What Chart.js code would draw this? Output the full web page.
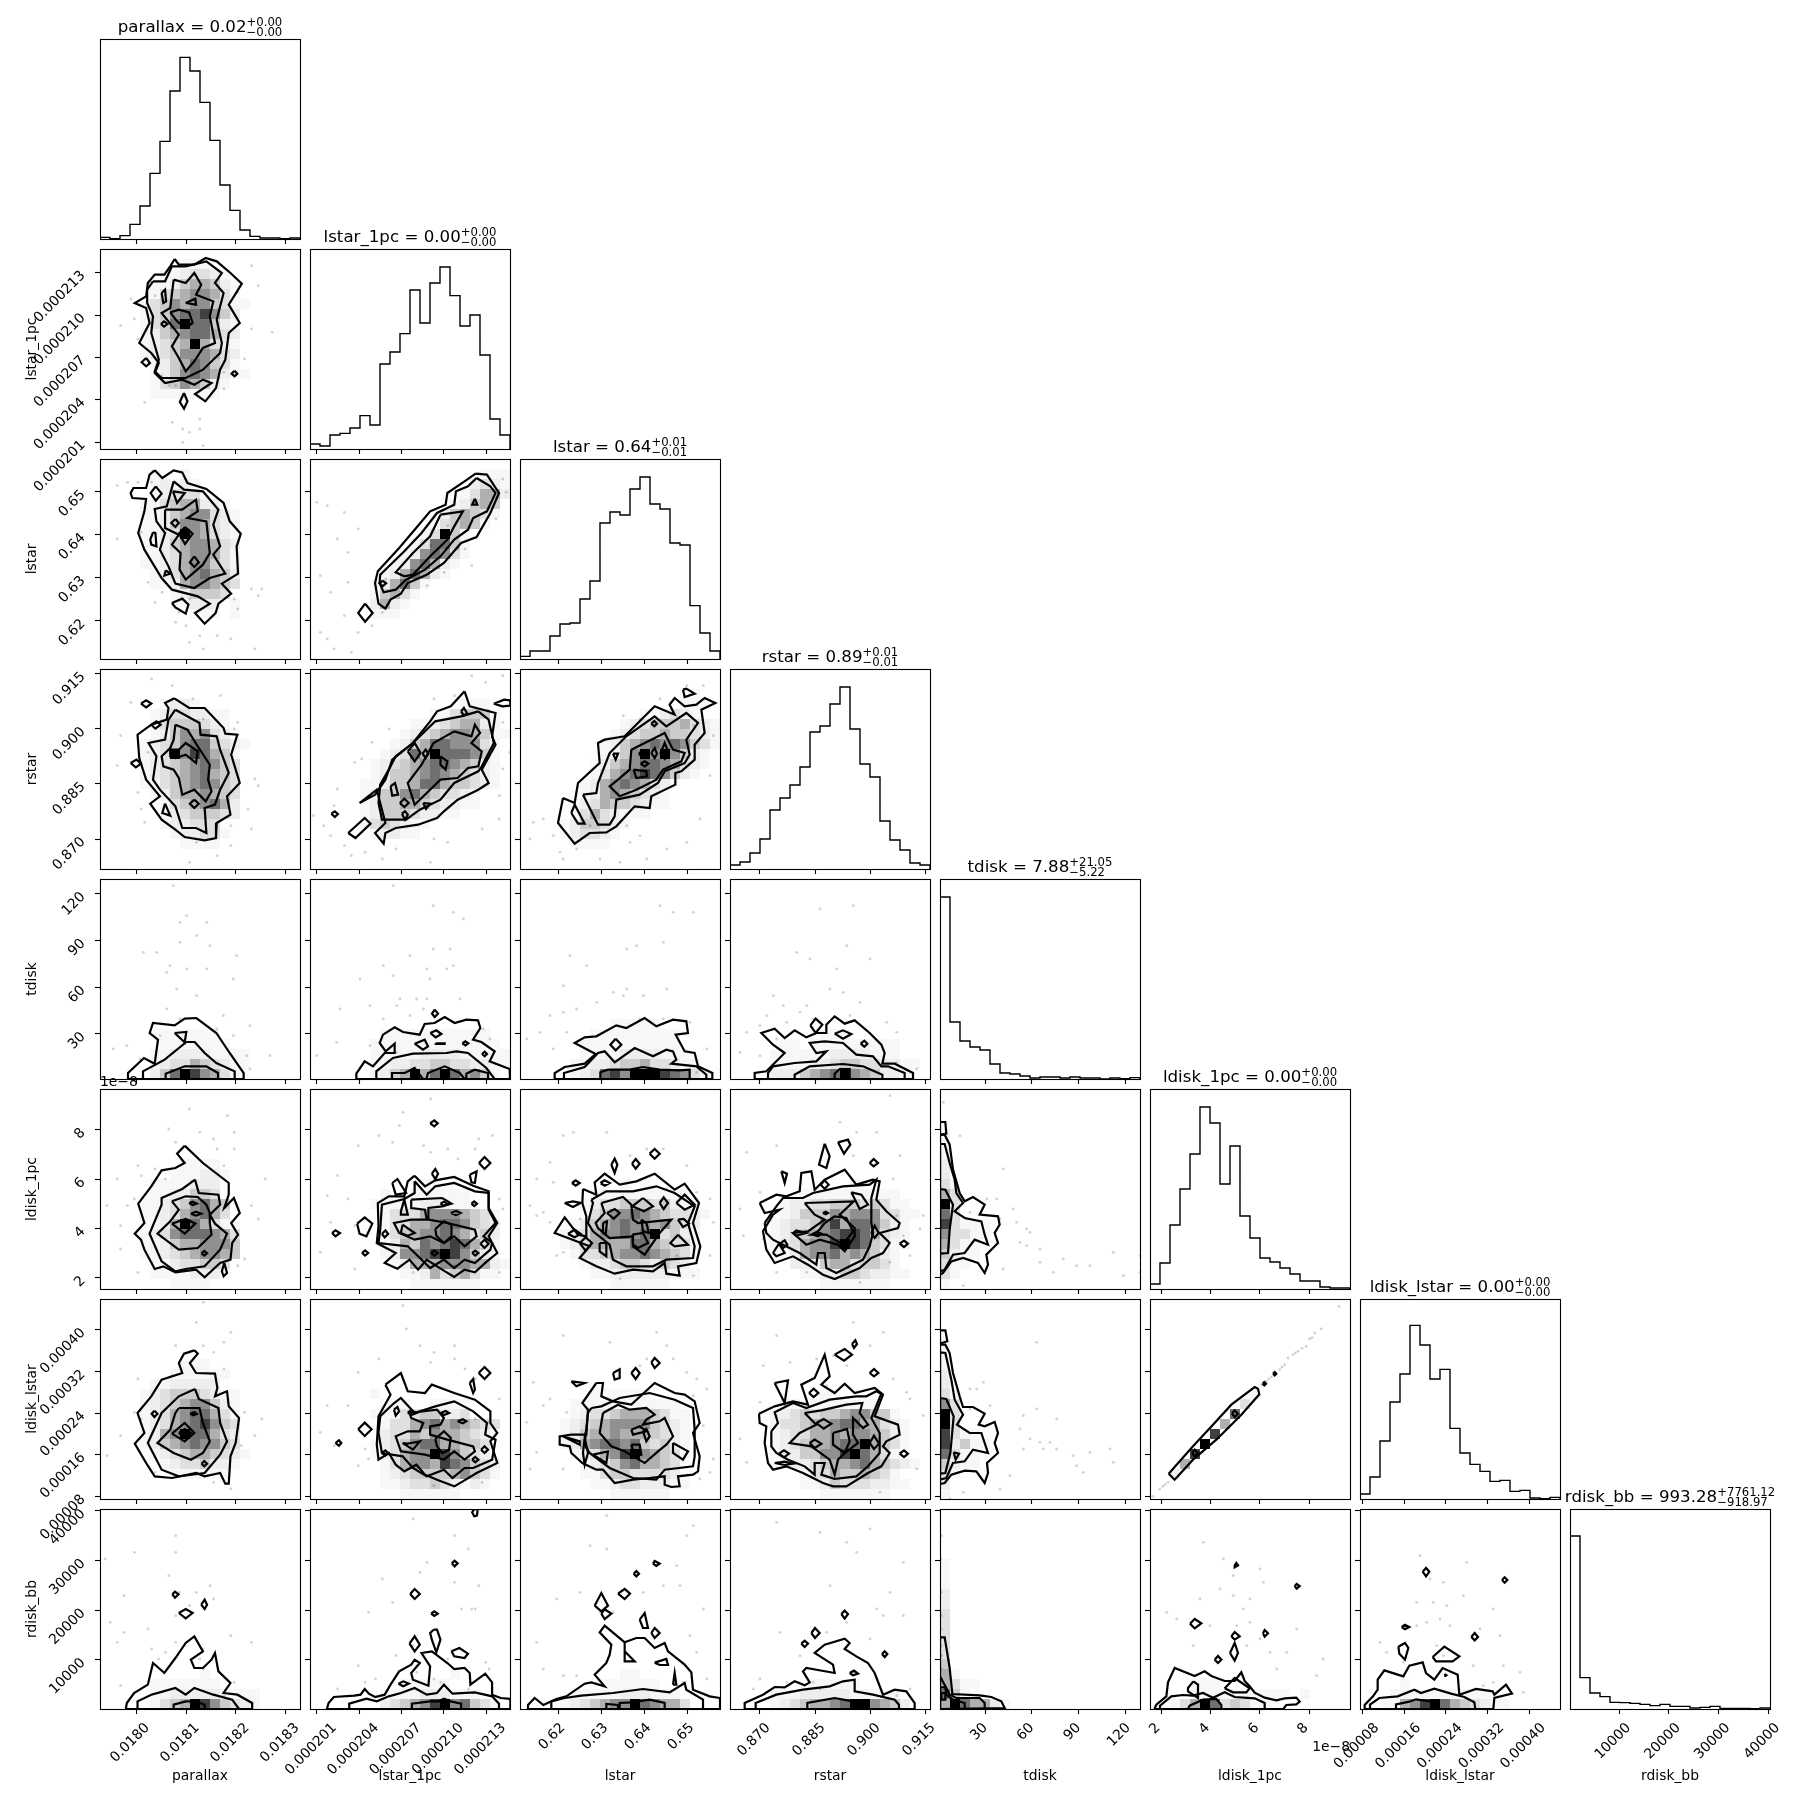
<!DOCTYPE html>
<html>
<head>
<meta charset="utf-8">
<title>corner</title>
<script src="https://cdn.jsdelivr.net/npm/chart.js@4"></script>
<style>
body { margin:0; background:#fff; width:1809px; height:1809px; overflow:hidden; position:relative; }
canvas { position:absolute; }
</style>
</head>
<body>
<script>
const names = ['parallax','lstar_1pc','lstar','rstar','tdisk','ldisk_1pc','ldisk_lstar','rdisk_bb'];
const axis_lo = [0.0179276,0.00020051,0.61116,0.86182,1.07,1.554e-8,7.49e-5,133];
const axis_hi = [0.0183284,0.00021468,0.65767,0.91636,129.64,9.661e-8,4.595e-4,40400];
const tick_values = [
  [0.0180,0.0181,0.0182,0.0183],
  [0.000201,0.000204,0.000207,0.000210,0.000213],
  [0.62,0.63,0.64,0.65],
  [0.870,0.885,0.900,0.915],
  [30,60,90,120],
  [2e-8,4e-8,6e-8,8e-8],
  [0.00008,0.00016,0.00024,0.00032,0.00040],
  [10000,20000,30000,40000]
];
const tick_labels = [
  ['0.0180','0.0181','0.0182','0.0183'],
  ['0.000201','0.000204','0.000207','0.000210','0.000213'],
  ['0.62','0.63','0.64','0.65'],
  ['0.870','0.885','0.900','0.915'],
  ['30','60','90','120'],
  ['2','4','6','8'],
  ['0.00008','0.00016','0.00024','0.00032','0.00040'],
  ['10000','20000','30000','40000']
];
const title_main = ['parallax = 0.02','lstar_1pc = 0.00','lstar = 0.64','rstar = 0.89','tdisk = 7.88','ldisk_1pc = 0.00','ldisk_lstar = 0.00','rdisk_bb = 993.28'];
const title_up = ['+0.00','+0.00','+0.01','+0.01','+21.05','+0.00','+0.00','+7761.12'];
const title_down = ['\u22120.00','\u22120.00','\u22120.01','\u22120.01','\u22125.22','\u22120.00','\u22120.00','\u2212918.97'];

// histogram heights, 20 bins per parameter
const hist = [
  [.5,.1,1,4.4,9.9,19.7,29.3,44.4,54.5,50.4,41,29.6,16.2,8.6,2.7,.8,.3,.3,.1,.3],
  [1.5,.9,4.2,4.7,6.3,10,7.2,25.5,29.1,34.6,47.7,37.8,49.8,54.6,46,36.9,40.2,28.2,9,4.2],
  [.8,2.4,2.4,6.9,10.5,10.8,18,23.4,40.8,44.1,43.2,51,54.6,46.5,45,34.8,34.2,16,7.8,2.4],
  [1.2,2.1,4.8,9,17.7,21.3,25.2,30.6,41.1,42.9,49.5,54.6,42,31.5,27.6,14.4,8.7,5.7,1.8,1.2],
  [54.6,17.1,11.4,9.6,8.7,4.5,1.8,1.5,.9,.3,.6,.6,.3,.6,.3,.3,0,.3,.1,.4],
  [1.5,7.8,19.2,30,40.5,54.6,49.8,31.5,42.9,21.9,15.3,9.3,8.1,6.3,4.5,2.4,2.4,.6,.3,.3],
  [1.5,6.6,17.4,29.1,37.5,52.1,46.2,36,38.9,21.2,13.8,10.4,8.3,5.3,5.6,2.3,2.6,.3,.1,.5],
  [51.9,9.4,4.8,3.7,2,1.9,1.7,1.4,1,1.4,.8,.8,.3,.5,.8,.2,.2,.2,.1,.3]
];

// contour vertices x,y,x,y on the histogram grid (y 0-60, x 0-60, or 0-58.1 in the first two columns)
const c_1_0 = [
 [21.7,57,22.9,55.3,27.4,55.3,30.7,57.3,33.9,56.3,37.9,52.8,41.2,49.6,37.4,43.3,40.6,37.8,37.4,34.8,36.4,26.8,34.9,23.8,33.7,18.3,30.6,14.3,27.6,16.5,32.4,19.8,29.9,20.8,27.4,19.3,23.9,20.8,18.9,19.8,15.9,22.8,17.1,25.8,14.9,28.8,11.4,31.8,14.4,37.8,13.4,42.3,10.1,43.8,13.4,45.8,13.9,49.8,15.9,52.3,18.7,52.3,20.4,54.8],
 [15.4,50.3,18.9,50.3,20.9,54.8,24.9,54.8,30.9,56.3,35.4,52.8,33.4,49.8,35.9,46.8,33.9,38.8,35.4,31.8,34.9,28.8,29.9,23.8,24.9,21.3,17.9,21.3,15.9,23.3,17.1,26.8,14.9,34.8,15.4,39.8,13.7,43.8,13.7,47.8],
 [21.4,50.8,24.9,49.8,27.4,52.8,29.4,49.3,27.9,46.3,32.9,44.3,31.9,39.8,33.4,31.8,29.9,30.3,27.4,26.3,24.9,23.3,22.9,27.3,20.9,30.8,22.9,34.3,17.9,40.8,20.4,42.3],
 [17.9,46.8,18.9,47.8,19.2,44.3,18.4,43.8],[24.9,43.8,27.7,45.1,27.9,43.3],[20.4,41,22.9,41.8,25.9,41,26.9,37.8,24.9,36.3,22.4,38.3],
 [17.7,37.5,18.6,38.3,19.6,37.5,18.6,36.7],[13.4,27.3,14.5,25.8,13.4,24.8,12.1,26],[39.1,23.5,39.9,22.6,39.1,21.8,38.2,22.6],[24.4,16.8,25.4,14.3,24.4,12.1,23.2,14.1]
];
const g_1_0 = ['','........111.........','......1123321.......','.....112455421......','.....134566531......','....13465664311.....','....1346778642......','....1347977421......','....1245677532......','....1234595321......','....1234666532......','.....124576431......','.....1246765211.....','.....13465421.......','.....1111111........'];
const c_2_0 = [
 [15.9,56.6,18.1,54.3,21.4,56.6,23.9,56,25.4,52.8,30.9,51,35.9,46.8,37.7,41.3,40.9,37.6,39.7,33.8,40.1,25.6,35.4,22.6,38.1,19.6,34.4,16.6,33.6,13.8,30.4,10.6,27.6,13.8,31.9,16.6,28.4,18.8,20.9,20.8,17.9,24.3,12.9,32.8,11.1,37.8,12.9,44.3,13.4,48,9.4,48.3,8.9,49.8,9.7,51.3,13.4,51.3,14.4,55.3],
 [21.4,53.3,24.4,50.8,29.9,50.3,34.4,44.8,32.9,40.3,34.9,33.8,32.9,31.3,36.4,25.6,31.9,24.3,27.4,21.3,21.9,22.6,19.9,27.8,17.4,32.8,18.9,37.8,16.4,41.3,15.9,45,19.4,45.8],
 [18.9,44.8,23.9,44.8,27.9,47.8,28.4,44.3,25.4,42.3,30.9,41.3,31.9,31.8,29.9,28.3,24.9,23.8,23.1,26.8,23.4,31.8,20.9,34.3,22.9,37.3,18.9,39.3],
 [21.2,50.3,24.6,49.8,22.4,46.8],[16.2,51.8,17.9,49.6,16.2,47.5,14.7,49.8],[21.9,42,22.9,40.8,21.9,39.6,20.7,40.8],[24.7,39.6,26.9,37.6,24.7,34.5,22.9,37.6],[27.4,30.8,28.7,29,27.4,27.6,26.1,29],[15.4,38,16.1,37.8,16.4,33.8,14.9,34.3,14.6,35.8],[19.1,26.6,20.4,25.6,18.7,25],[20.9,16.8,23.9,18.1,25.7,16.3,24.9,13.6,21.9,15.5]
];
const g_2_0 = ['','.....1..1...........','.....12121..........','.....123331.........','....113455221.......','....1124566321......','....1124665321......','....1123965321......','....1124566532......','....1123566531......','....1123566431......','.....123567542......','.....112566543......','.......124443.......','.......11222.1......','.........111.1......'];
const c_3_0 = [
 [21.6,51.2,25.9,48.3,30.4,48.3,35.9,42.3,36.4,40.6,39.9,40.3,38.1,34.3,40.6,25.8,36.9,21.8,37.9,16.3,33.9,13.8,33.7,9.3,30.4,8.6,24.6,9.6,21.9,11.8,17.9,14.8,14.6,19.6,17.4,21.8,13.4,26.8,11.4,33.3,10.9,40.3,14.9,43.3,19.4,44.8,19.9,48.3,18.9,49.8],
 [21.9,47.8,28.9,43.8,29.2,40.3,33.9,39.8,34.9,35.8,37.4,28.8,34.9,23.8,33.4,19.3,30.4,18.3,30.9,10.8,27.9,12.3,23.9,12.3,21.9,18.8,17.4,23.8,15.4,26.8,16.4,33.8,14.1,37.8,18.9,38.8,19.9,44.8],
 [21.9,43.3,25.4,41.8,28.4,36.8,31.9,31.3,31.4,26.8,32.4,23.3,30.7,20.3,27.4,23.8,23.9,22.3,22.9,27.3,21.4,29.8,18.4,30.8,17.9,33.8,20.4,36.3,21.4,38.8],
 [20.4,35.8,22.9,35.8,24.9,37.8,28.4,35.3,27.9,31.8,24.9,34.3,21.9,33.3,20.4,33.8],
 [11.9,49.6,13.4,50.6,14.9,49.6,13.4,48.5],[14.9,43.3,16.4,44.3,17.6,43.3,16.1,42.1],[8.9,31.8,10.6,32.8,11.9,31.6,10.4,30.5],[27.4,20.8,28.7,19.6,27.4,18.3,26.1,19.6],[18.9,19.6,20.4,16,18.1,16.8]
];
const g_3_0 = ['','','','......1221..........','.....12332211.......','.....13444321.......','.....124656321......','....12346774321.....','....1239687541......','....1234567643......','....1234567543......','....1134567643......','.....124556543......','......13456752......','......12344432......','......122333........','.......122331.......','........1111........'];
const c_4_0 = [
 [8.4,0,8.4,1.8,13.2,6.3,16.4,4.6,17.4,11.8,14.9,13.8,15.9,16.8,22.4,16.1,25.4,18.1,28.9,18.3,34.9,13.8,38.9,7.8,43.1,1.8,43.1,0],
 [12.9,0,12.9,2.3,19.4,5.8,25.9,11.1,28.4,11.1,31.4,7.8,34.9,4.8,40.4,2.3,40.4,0],
 [19.7,0,19.7,1.6,25.4,3.8,31.9,3.8,35.4,1.8,35.4,0],[22.4,13.8,25.9,14.1,25.4,11]
];
const g_4_0 = {15:'......111111........',16:'......1111111.......',17:'.....1122221111.....',18:'.....1233543211.....',19:'.....247986531......'};
const c_4_1 = [
 [13.9,0,13.9,1.6,16.4,5.3,18.9,3.8,22.4,7.8,25.4,7.8,25.4,10.6,22.7,8.3,20.9,10.8,21.9,13.3,25.4,15.5,27.9,14.1,32.9,13.3,34.4,16.5,37.4,16.8,40.4,18.6,43.4,16.8,46.9,17.8,50.4,17.6,51.1,15.3,48.9,11.8,51.4,11.1,55.4,8.3,53.9,5.3,59.9,3,60,0],
 [19.9,0,19.9,2.3,24.9,6.3,30.9,7.6,40.9,7.8,43.9,8.3,47.4,7.8,52.9,3.3,55.4,0],
 [24.6,0,24.6,1.8,28.4,1.8,31.4,3.3,33.9,0],[34.9,0,35.4,1.8,40.4,3.8,44.9,1.8,46.4,0],[46.9,0,46.9,1.6,49.4,2.8,53.4,1.8,53.4,0],
 [37.4,20.8,38.4,19.6,37.4,18.6,36.6,19.6],[36.1,13.8,37.9,14.6,39.4,13.5,37.7,12.5],[31.4,10.6,34.4,11.8,35.4,9.8,33.9,8.8],[37.7,10.7,40.4,10.7,40.4,10.5,37.7,10.5],[45.7,10.7,46.6,11.3,47.5,10.7,46.6,10.1],[51.6,7.5,52.4,8.2,53.1,7.5,52.4,6.8]
];
const g_4_1 = {15:'.......11111111111..',16:'......1111111111111.',17:'......11111222211111',18:'......11223344332211',19:'......1245957975641.'};
const c_4_2 = [
 [10.4,0,10.4,1.8,13.4,3.6,19.4,4.6,22.7,7.5,16.4,10.8,19.4,12.5,22.9,12.8,28.9,16.1,31.9,15.3,37.4,18.3,40.9,15.8,45.9,17.8,49.9,17.3,50.4,13.8,46.7,13.3,49.4,8.3,52.4,7.8,53.4,3.8,57.7,1.8,57.7,0],
 [13.2,0,13.2,1.8,19.4,3.6,23.4,7.8,25.4,8.3,28.4,5,34.4,9.3,39.9,6.8,43.9,8.8,45.9,8.3,46.9,5.8,45.4,4.6,52.9,3.8,55.9,1.3,55.9,0],
 [24.1,0,24.1,2,26.4,2.8,32.9,2.8,36.9,3.6,41.9,2.8,47.9,2.6,50.9,2.8,50.9,0],[28.7,12.1,30.4,10.3,28.7,8.6,27.1,10.3]
];
const g_4_2 = {14:'.........11111......',15:'.......111111111....',16:'......1111111111....',17:'......11112222111...',18:'.....1122344533211..',19:'.....12378699987631.'};
const c_4_3 = [
 [7.4,0,7.4,1.8,10.9,2.3,16.4,7.8,12.9,10.3,9.4,13.8,13.4,15.1,16.4,12.3,19.4,14.6,22.9,12.5,25.9,13.8,28.9,13.8,28.9,16.3,31.4,18.8,34.4,16.6,37.4,17.6,41.9,13.8,45.4,10.3,46.4,7.8,45.7,4.6,49.4,4.6,54.9,1.8,54.9,0],
 [11.4,0,11.4,1.8,12.9,3.8,19.4,4.8,25.9,5.3,28.9,8.3,25.9,7.8,23.9,10.8,28.4,11.3,33.9,10.8,37.9,7.3,42.9,6.8,45.4,3.8,47.4,3.8,52.4,1.8,52.4,0],
 [19.4,0,19.4,1.3,23.9,3.8,33.9,4.5,39.9,3.8,45.7,1.3,45.7,0],[31.4,0,31.4,1.6,32.9,3,35.9,3,35.9,0],
 [24.1,16.1,25.7,18.1,27.7,16.3,25.7,13.8],[31.4,13.6,33.9,14.6,36.4,13.5,33.9,12.1],[39.2,10.6,40.3,11.5,41.2,10.6,40.3,9.7]
];
const g_4_3 = {15:'.........111........',16:'.....11.111111111...',17:'....1111112222111...',18:'....111122344332211.',19:'....22245679654221..'};
const c_5_0 = [
 [24.6,43,29.9,37.8,37.4,31.8,37.4,28.3,36.1,24.3,38.9,27.3,40.6,22.8,38.1,19.8,40.1,16.3,38.4,13.8,37.9,8.8,34.9,7.8,30.4,3.5,27.9,5.8,21.9,5,18.4,6.8,15.9,6,12.9,11.8,11.9,14.8,10.1,16.6,12.9,19.8,11.1,25.6,14.9,30.8,17.9,35.6,21.9,36.3,24.6,37.8,22.4,40.6],
 [27.6,32.8,28.7,28.8,34.4,28.3,34.9,25.3,31.9,22.3,33.4,19.6,36.9,16.6,34.9,11.8,30.4,6.8,24.9,6,21.9,5.3,17.9,8.3,14.4,16.6,17.9,25.3,17.9,27.3,23.9,30],
 [20.9,26.3,24.9,27.8,28.4,27.6,30.9,25.3,31.9,22.8,31.9,19.8,32.4,16.3,28.4,12.3,22.9,11.8,16.7,16.6,20.4,20.3,22.9,23.8],
 [20.9,19.6,24.9,21,27.7,19.6,24.6,16.6],[25.9,25.8,26.9,26.2,28.1,25.6,26.9,25.2],[26.4,22.6,27.9,23.2,29.4,22.6,27.9,22],[29.5,10.7,30.3,11.4,31.1,10.7,30.3,10],[36.1,7.8,36.9,4.8,35.9,3.8,35.4,5.3]
];
const g_5_0 = ['','','','','','','','........1111........','.......111221.......','.....1111222........','.....1122443........','....112346754.......','....112356753.......','....1125975311......','....1236777653......','....1124556664......','....1123456654......','.....11233443.......','.....1111222........','.......1111.........'];
const c_5_1 = [
 [30.4,34,33.4,30.8,36.4,32.6,41.9,33.6,47.4,31,51.9,29.3,51.9,24.3,54.4,19.8,51.9,15.8,54.4,10.8,51.4,8.3,47.9,5,44.9,5.8,41.9,3.6,38.4,5.8,33.9,8.8,31.4,5.8,28.9,8.8,25.4,6.1,21.7,7.8,24.9,10.8,19.4,13.8,19.9,18.8,19.7,25.8,22.9,27.8,27.4,27.8,28.4,32.3],
 [30.4,32.3,33.9,28.3,36.4,30.8,41.9,31.8,47.9,29.3,51.9,28.8,51.9,23.8,53.9,19.8,50.4,15.8,52.9,13.8,52.4,11.8,47.9,7.8,44.9,8.8,41.9,6.3,38.9,8.8,34.9,6.3,31.4,9.8,28.4,12.8,19.9,13.8,20.4,17.8,20.9,25.3,27.4,27,30.4,28.8],
 [29.4,26.8,38.4,27.3,41.1,25.6,38.4,24.8,34.4,24.3,34.4,20.8,39.9,19.8,47.9,17.8,48.4,15.8,44.9,12.8,41.9,15.8,38.9,13.8,34.9,15.8,30.4,14.8,25.9,16.8,24.4,19.8,29.4,20.8,33.9,20.8,33.4,23.8,29.4,24.3],
 [26.9,19.3,30.4,16.8,28.4,16,26.4,16.8],[36.4,18,38.9,20.3,41.1,19.3,41.1,15.8,38.9,13.8,36.7,16],[34.9,49.7,36.1,50.6,37.1,49.7,36.1,48.8],[49.1,37.8,50.7,39.6,52.4,37.8,50.7,36],[35.4,34.6,36.4,36,37.2,34.6,36.4,33],[46.4,34.3,48.4,35.3,47.9,31.8,46.9,32],[6.4,16.8,7.4,17.6,8.7,16.8,7.4,15.8],[13.7,19.6,15.9,21.5,18.1,19.6,16.4,15.8,14.4,16.6],[15.1,10.8,16,11.6,16.9,10.8,16,10],[23.9,31.8,25.4,33,27.9,28.8,24.9,28.3],[26.4,23.3,27.4,26.8,28.4,22.3,26.4,22.3],[49.5,13.6,50.7,14.8,51.9,13.6,50.7,12.3],[20.9,16.5,21.9,17.6,22.7,16.5,21.7,15.5],[35.2,10.8,36.1,11.5,37.1,10.8,36.1,10],[47.1,10.8,48,11.5,48.9,10.8,48,10],[37.9,25.6,38.9,26.2,39.9,25.6,38.9,25],[46.9,25.6,47.7,26.3,48.5,25.6,47.7,24.9],[40.9,22.8,42.4,23.4,43.7,22.8,42.4,22.2]
];
const g_5_1 = ['','','','','','','','','','...........11.......','.......1..111111....','......11111222111...','.......133356665431.','.......133556776432.','.......134566765342.','.......125476787531.','.......126678986421.','........125556665521','.........1125345311.','..........1111111...'];
const c_5_2 = [
 [18.9,30,22.9,28.3,22.4,32,25.4,34.6,29.9,31.3,34.9,32.3,40.4,34.6,46.4,29.8,49.4,31.6,53.7,25.8,51.9,19.8,54.1,12.8,52.9,7.8,47.4,6.8,47.9,4,43.9,4.6,43.4,7.8,39.9,5.3,33.9,5.8,28.4,4.6,22.9,6.8,17.9,9.3,20.9,12.8,10.4,16.8,13.4,21.5,17.4,16.3,19.9,15.8,19.9,21.8,18.7,25.8],
 [21.4,26.8,25.9,29.3,33.9,29.3,40.9,30.8,46.4,28.8,52.4,24.8,50.4,19.8,52.4,12.8,51.9,9.3,43.9,8.8,39.9,6.8,31.9,6.8,27.9,8.8,26.9,13.3,21.9,17.3,20.4,19.8,21.9,25.8],
 [24.4,25.8,30.9,27.6,33.4,25.3,33.9,20.8,35.4,19.8,45.4,20.8,41.9,16.8,37.4,10.3,33.9,12.8,33.9,15.8,26.9,15.3,23.4,18.3,22.7,19.8,25.4,22.8],
 [36.9,27.3,39.9,24.8,37.2,23.3,33.7,24.8],[41.9,25.8,43.1,27.5,44.4,25.8,43.1,24],[46.9,25.8,49.4,28.3,52.4,25.3,49.4,23.8],[26.1,22.8,28.4,24,29.9,22.8,28.1,21.1],[24.9,19.8,26.1,20.3,25.7,16.3,24.9,16.8],[36.4,20.8,37.9,19.8,38.7,16.8,36.9,17.3],[33.7,16.3,36.9,16.8,38.4,13.8,35.4,12.3,33.9,13.3],[47.4,20.8,49.1,21,50.7,19.6,48.9,18.6],[47.4,16.3,50.4,13.3,46.4,12.8,45.1,13.8],[14.4,16.5,16.4,17.8,18.2,16.5,16.4,15.5],[17.9,13.8,19.7,15.5,21.6,13.8,19.7,11.5],[23.9,13.8,25.9,13.8,25.9,9.8,23.9,11.3],[13.4,25.8,15.9,26.3,18.2,25.8,15.9,24.6],[15.6,31.8,16.7,32.6,17.9,31.8,16.7,31],[24.1,31.8,25.4,32.6,26.9,31.8,25.4,31],[27.4,37.3,28.4,39.1,29.2,37.3,28.4,34.8],[33.6,37.6,34.7,39,35.9,37.6,34.7,36.1],[38.9,40.6,40.4,42,41.9,40.6,40.4,39.1]
];
const g_5_2 = ['','','','','','','','','','........1.1.1.......','.......1111111111...','......123344434211..','......1346676543321.','.....1245676656432..','....12356676793421..','....12355557754331..','.....1334566765431..','......12234432432...','.......11222222111..','.........111111.....'];
const c_5_3 = [
 [8.9,25.8,13.9,28.3,16.9,27.8,20.9,29.3,21.4,34.8,24.4,35.3,25.4,29.8,28.4,32.8,34.4,35.8,37.9,31.3,42.9,32.8,44.9,32.3,43.9,26.8,46.9,23.3,50.9,19.8,50.4,18.3,44.9,16.8,47.9,13.8,45.9,10.8,42.4,9.3,38.9,6.3,31.4,3,27.9,4.3,23.4,7.3,18.9,9.8,13.4,7.8,10.9,11.8,9.9,17.3,12.9,22.3,14.9,23.8,10.4,22.8],
 [10.4,19.8,13.9,24.8,15.9,27.3,21.9,27.3,24.9,28.8,33.9,30.8,41.9,31.3,43.9,32.8,42.4,27.3,42.4,19.8,42.9,16.8,41.9,12.8,39.9,8.8,35.9,6.8,31.9,4.8,28.9,6.3,28.4,10.8,26.4,10.8,25.9,7.3,20.9,10.8,15.9,13.3,12.9,14.8,10.9,16.8],
 [22.4,25.8,37.1,26.3,32.9,22.3,37.4,18.3,37.4,15.8,34.4,11.3,32.4,13.3,26.9,14.8,22.9,13.3,18.9,16.8,23.4,17.3,28.4,20.8,25.4,22.3],
 [28.4,19.8,31.4,21.8,34.9,21.3,36.9,17.3,33.9,13.3,28.9,16.3,24.4,16.3,26.4,17.3],[36.4,29,39.4,28.3,41.4,25.3,38.9,24],[42.4,16.8,43.4,19,44.6,16.8,43.4,15.3],[32.4,44,35.4,44.8,36.1,43.3,34.2,40.6],[28.4,43.6,29.9,39.8,28.9,36.3,26.7,37.3],[15.4,35.3,17.1,34.6,16.4,31.8],[41.9,37.8,43.1,39,44.4,37.8,43.1,36.8],[27.2,31.3,28.4,32.6,29.6,31.3,28.4,30.1],[12.9,10.8,14.7,13.6,16.4,10.8,13.9,9.8],[14.9,13.6,16.4,14.6,17.2,13.3,15.9,12.3],[50.9,13.6,52.2,14.5,53.4,13.6,52.2,12.6],[27.9,22.8,28.7,23.2,29.4,22.8,28.7,22.4],[18.9,16.8,19.9,17.6,22.9,16.8,19.9,16],[24.9,16.3,26.4,17,27.4,16.6,26.4,15.8]
];
const g_5_3 = ['','','','','','','','','','............1.......','.......1111111111...','.....1223344434311..','.....12444656663311.','....12334685776421..','....12345678875321..','....12356689874311..','.....125667565421...','......22245534431...','.......11224432211..','.........1111111....'];
const c_5_4 = [
 [0,46.3,1.4,46.3,2.9,43.3,3.9,35.8,5.9,28.8,7.4,26.3,9.9,27.6,13.4,25.3,11.9,22.3,17.4,21.8,17.9,19.3,16.4,16.8,17.4,13.8,13.9,10.3,14.4,7.3,13.4,4.8,11.4,7.8,6.9,9.3,3.4,8.3,.9,4.8,0,4.3],
 [0,50.1,1.6,50.1,1.9,46.6,.6,46.3,0,46.3],
 [0,43.5,1.4,43.5,2.9,37.8,4.4,32.8,4.9,28.8,6.9,25.8,4.4,23.3,7.4,21.3,12.4,20.3,13.4,16.3,14.4,13.3,10.4,14.8,7.4,10.8,3.9,10.3,1.4,5.8,0,5.3],
 [0,30,1.6,29.8,3.9,25.3,2.9,17.8,2.4,10.8,0,10.6]
];
const g_5_4 = {4:'1...................',5:'1...................',6:'1...................',7:'2...................',8:'2...................',9:'31..................',10:'53..................',11:'93..................',12:'73..................',13:'83111...............',14:'63311...............',15:'5311................',16:'4211................',17:'311.................',18:'31..................',19:'1...................'};
const c_6_0 = [
 [27.4,44.6,28.4,43.6,26.1,40.8,27.9,37.8,33.4,37.6,34.1,33.3,33.4,30.8,36.9,32.3,37.4,27.8,40.4,24.3,39.4,16.8,37.9,12.8,37.4,4.6,36.4,4.6,34.9,7.8,30.4,6.8,27.9,7.8,20.9,6.3,15.9,6.8,13.4,10.8,10.1,16.6,12.9,19.8,10.9,25.8,14.9,30.8,17.9,35.8,23.9,37.8,22.9,40.8,24.4,43.6],
 [27.6,33,28.7,30,34.4,27.3,34.9,22.8,36.9,17.3,34.9,13.3,30.4,7.8,22.9,6.8,17.9,8.8,13.9,16.8,17.9,25.8,22.9,30.8],
 [22.9,27.3,28.9,27.3,29.9,22.8,31.9,17.3,29.9,13.8,26.4,11.8,21.4,13.8,16.7,16.8,20.4,20.8,21.9,25.8],
 [20.9,19.6,24.6,22.8,27.4,19.8,24.6,17.3],[22.9,19.8,24.6,21,26.4,19.8,24.6,18.3],[15.8,26.5,16.7,25.6,15.8,24.6,15,25.6],[26.2,25.6,27.4,26,28.1,25.5,27.1,25.1],[29.5,10.6,30.3,11.4,31.1,10.6,30.3,9.8]
];
const g_6_0 = ['','','','','','','........111.........','.......111111.......','.....1122222........','....1234443211......','....1234566421......','....1235677531......','....1235678643......','....1256977532......','....1245676643......','.....1234554321.....','......12334221......','.......111111.......'];
const c_6_1 = [
 [21.9,34.3,26.4,37.8,28.4,32.3,33.4,31.8,35.4,34.3,41.9,31.8,47.9,29.8,52.4,26.3,52.4,22.8,54.4,19.8,52.4,17.3,54.4,10.8,48.4,7.8,44.4,5.3,41.9,3.8,36.9,5.8,33.4,7.3,30.9,10.3,27.4,8.3,24.9,10.3,22.9,13.8,19.9,11.8,19.4,16.3,19.9,24.8,23.4,31.3],
 [23.9,28.3,26.4,30.3,30.4,25.8,36.4,27.8,41.9,29.3,47.4,26.3,51.4,22.8,50.9,19.3,53.9,17.8,52.9,11.8,47.4,9.3,44.9,9.3,41.4,6.3,38.9,8.8,33.9,6.8,29.9,9.3,26.9,12.8,20.9,13.8,19.9,19.8,20.4,24.8],
 [28.9,25.8,36.9,26.8,38.9,24.3,37.9,22.3,34.9,21.8,34.9,19.3,39.9,17.8,47.4,15.8,47.9,14.3,44.9,11.8,41.9,14.3,38.9,11.8,33.4,13.3,26.4,14.3,24.9,18.8,28.4,20.3,31.9,20.3,32.9,22.8,29.4,24.3],
 [36.4,18,38.9,20.3,40.9,18.3,40.4,14.8,38.4,13.8,36.9,15.8],[26.9,16.8,29.9,14.8,31.9,17.3,28.4,16.6],[24.4,26.8,25.4,27.6,25.9,26.3,24.9,25],[28.4,26,29.4,26.6,30.9,25.8,29.4,25.2],[37.9,25.8,39.4,26.4,40.4,25.8,38.9,25.2],[42.9,23.3,44.4,23.9,45.4,23.3,44.4,22.7],[20.9,13.8,21.9,14.6,22.7,13.8,21.9,13],[49.7,14.8,50.7,15.8,51.7,14.8,50.7,13.8],[47.1,11.8,48,12.6,48.9,11.8,48,11],[14,20.9,15.9,22.9,17.9,20.9,15.9,18.9],[7.4,16.8,8.4,17.6,9.1,16.8,8.4,16],[49,37.8,50.7,39.6,52.4,37.8,50.7,36],[46.4,34.8,47.4,36,47.9,32.8,47.4,31.8]
];
const g_6_1 = ['','','','','','','','','','......1.............','.......111..1111....','......1113344223....','.......133567565433.','.......23354655432..','......123467755443..','......123566986432..','.......135665876432.','.......123444456431.','.......11233432121..','.........111111.....'];
const c_6_2 = [
 [22.9,34.8,24.9,34.8,24.4,30.8,27.9,29.3,33.4,28.3,40.4,34.8,46.4,31.8,49.4,31.3,52.4,29.3,53.9,22.8,51.9,19.8,53.9,12.8,53.4,8.3,51.9,7.3,47.4,6.8,47.9,3.8,45.4,3.6,43.4,4.3,43.4,6.8,38.9,6.3,33.9,5.8,28.4,4.8,24.9,8.8,22.9,8.8,18.7,10.8,15.4,13.8,14.9,15.8,11.9,16.3,11.9,18.8,15.4,19.3,19.9,19.3,20.4,26.8,18.7,28.8],
 [21.4,27.3,24.4,27.8,29.9,30.3,38.9,31.8,46.4,29.8,51.9,27.3,52.4,20.8,52.4,12.8,51.9,9.8,43.4,8.8,40.9,5.8,33.9,6.3,26.9,9.3,20.9,13.8,19.4,16.3,20.4,25.8],
 [24.9,25.8,29.4,28.3,32.9,26.8,37.9,27.3,40.4,25.3,37.9,23.8,36.9,22.3,41.9,23.3,43.4,24.3,45.9,18.8,43.9,16.3,41.4,14.3,37.4,10.8,33.9,12.8,31.4,14.3,27.4,15.8,23.9,19.8],
 [33.4,20.8,35.9,21.8,37.9,20.3,33.9,19.3],[36.9,20.3,37.9,21,38.9,18.8,37.9,17.3],[33.4,16.3,35.9,16.3,36.4,13.3,34.4,12.8],[45.9,16.8,50.4,14.3,48.9,11.8,45.9,13.8],[21.9,13.3,26.4,14.3,25.9,10.8],[15.4,35.3,19.4,34.8,16.9,33.8],[27.9,37.8,29.9,38.9,29.9,36.3,28.4,35.8],[33.4,37.8,34.7,39.3,35.9,37.8,34.7,36],[39.4,41,40.4,42.3,41.9,40.8,40.4,39.3],[12.9,18.8,17.9,17.3,17.9,16.3],[18.9,13.8,19.4,18.3,20.4,13.8,19.4,10.3]
];
const g_6_2 = ['','','','','','','','','','.......111111.......','.....11111111111....','.....123345554311...','....1234566664321...','....1245565554321...','....1256776743421...','.....123568965431...','......1234675543....','......1134433332....','.......1123322211...','.........111111.....'];
const c_6_3 = [
 [8.7,25.6,13.4,27.8,18.9,29.3,23.4,28.3,21.4,34.3,25.4,36.3,28.4,43.3,29.9,36.8,27.4,34.3,31.4,31.8,34.4,34.6,37.4,31.8,43.4,33.3,45.9,31.3,43.4,24.8,50.4,22.3,50.9,19.3,46.9,17.3,45.9,15.8,47.9,13.8,45.4,9.8,41.4,7.8,34.9,3.8,30.9,3.8,27.9,4.8,21.9,7.8,16.9,9.8,12.9,8.8,11.4,10.8,10.4,16.8,10.9,21.8,8.9,22.8],
 [12.4,20.3,14.4,22.8,13.4,26,18.9,28.8,22.9,27.3,29.9,29.8,37.9,30.8,40.9,30.8,43.9,32.3,45.4,31.6,42.4,24.3,44.9,19.8,44.9,13.8,41.4,9.8,37.9,6.8,31.4,6,27.4,7.3,28.4,10.8,25.4,10.8,25.4,7.3,22.4,9.8,17.4,11.8,13.9,13.8,12.4,15.8],
 [22.4,25.8,27.4,26.6,34.9,28.3,39.7,28.8,38.9,25.8,41.4,22.3,39.9,21.3,36.9,24.3,36.9,19.3,38.4,16.8,34.4,13.8,32.4,11.8,31.4,7.3,29.9,11.8,24.4,15.8,17.9,16.8,20.9,19.8,25.9,22.3,22.9,25.3],
 [30.9,19.8,35.1,21,35.9,17.3,34.4,13.8,30.9,16.3],[25.9,22.8,28.1,24,30.4,22.6,28.1,21.1],[23.9,16.8,25.4,17.8,27.4,16.6,25.4,15.3],[41.9,16.8,43.2,19,44.7,16.6,43.2,15],[13.4,34.8,17.4,35.6,16.4,28.8],[23.7,31.8,25.1,33.1,26.5,31.8,25.1,30.6],[31.4,43.3,34.4,45,36.6,43.3,34.2,41.5],[36.6,46.5,37.6,47.6,38.1,46.5,37.2,45.3],[41.9,37.8,43.2,39,44.5,37.8,43.2,36.8],[14.7,13.6,16.2,14.6,17.7,13.6,16.2,12.5],[13.4,10.8,16.4,11.2,18.9,10.6,16.4,10.2],[50.9,13.6,52.2,14.6,53.4,13.6,52.2,12.6]
];
const g_6_3 = ['','','','','','','','','','.........1..........','.....11.1111111.....','....1234344566441...','....13345567755321..','....12335565665421..','....12345567795431..','....1224466897531...','.....12234556754321.','.......1335445431...','.......11243332211..','.........1111111....'];
const c_6_4 = [
 [0,46.3,1.6,46.3,2.9,43.8,3.9,37.8,5.9,30.8,6.9,27.6,9.9,27.6,13.4,25.6,11.6,22.3,13.4,21.8,16.4,23.1,17.4,19.8,16.4,16.8,17.4,13.8,14.1,10.8,14.4,7.8,13.4,4.8,10.9,8.3,7.4,8.5,3.4,7.3,1.4,4.8,0,4.5],
 [0,50.6,1.6,50.6,2.2,47.3,.6,46.8,0,46.8],
 [0,44,1.6,43.8,2.4,40.3,3.4,35.8,4.4,29.8,6.9,25.3,5.1,22.3,8.9,19.8,12.4,19.8,14.4,13.8,9.9,14.8,7.4,11.3,3.9,10.8,1.9,6.3,0,5.8],
 [0,30.3,1.9,30,4.1,24.8,3.1,13.8,1.6,7.8,0,7.6],[4.1,14,5.7,13.6,4.7,11.8]
];
const g_6_4 = {4:'1...................',5:'1...................',6:'1...................',7:'2...................',8:'2...................',9:'31..................',10:'63..................',11:'93..................',12:'93..................',13:'8311................',14:'82411...............',15:'7311................',16:'4211................',17:'31..................',18:'2...................',19:'1...................'};
const c_6_5 = [
 [5.6,7.6,7.4,5.8,12.9,11.8,19.9,17.8,27.4,25.3,32.8,31.4,32.4,33.1,31.4,33.6,24.4,28.3,18.9,22.3,12.9,15.8],
 [12.6,13.8,13.4,14.8,14.4,13.8,13.4,12.8],[24.6,25.6,25.4,26.6,26.4,25.6,25.4,24.6],[33.8,34.6,34.3,35.1,34.8,34.6,34.3,34.1],[36.9,37.6,37.4,38.1,37.9,37.6,37.4,37.1]
];
const g_6_5 = {9:'..........1.........',10:'.........3..........',11:'........7...........',12:'.......5............',13:'......8.............',14:'.....9..............',15:'....8...............',16:'...5................',17:'..2.................'};
const c_7_0 = [
 [7.5,0,7.8,1.8,9.9,4.8,13.9,7.3,15.4,13.8,18.7,10.8,21.9,15.3,24.9,19.8,27.4,21.8,29.9,17.3,26.4,14.8,27.4,12.3,29.9,12.3,32.4,14.8,33.4,16.8,34.4,11.3,37.9,7.8,35.9,4.8,39.9,4.3,44.2,1.8,44.2,0],
 [10.9,0,10.9,2.3,14.9,4.3,18.4,5.3,21.9,6.3,24.9,4.3,27.4,6.3,32.9,4.3,38.4,2.8,40.4,0],
 [21.4,0,21.4,1.3,24.9,2.3,27.9,2.3,30.4,1.3,30.4,0],
 [21,34.4,21.8,35.2,22.8,34.4,21.8,33.4],[22.9,28.8,24.9,30,26.9,28.8,24.9,27.2],[29.4,31.3,30.4,32.8,31.1,31.3,30.4,30]
];
const g_7_0 = {16:'..........1.........',17:'.....1111111........',18:'.....11222221111....',19:'.....13459864321....'};
const c_7_1 = [
 [4.9,0,5.4,1.8,6.9,3.6,12.9,4,14.7,4.3,15.9,6,17.1,4.6,18.9,3.6,21.7,4.3,23.4,7.3,25.9,11.3,29.4,13.3,30.4,14.8,31.9,13.8,29.4,10.8,29.9,8.8,34.4,7,34.9,12.8,32.4,16.8,35.4,17.3,39.9,13.8,41.9,12,44.9,12.3,46.4,10.8,46.6,7.3,50.9,10.6,52.9,8,52.9,4.3,55.4,3.3,58.2,3,58.2,0],
 [11.4,0,11.4,1.6,16.4,3.1,19.4,2.3,22.9,3.8,26.4,4.8,30.4,6.3,33.9,4.3,36.9,4.8,38.9,7.3,41.4,4.6,47.9,5,52.9,3.8,54.9,1.6,54.9,0],
 [29.4,0,29.6,1.6,34.9,2.3,37.4,2.3,38.9,3.1,40.9,2.3,43.9,1.6,43.9,0],
 [47.7,60,48.7,59.8,48.5,58,47.7,57.8,47.1,59],[41.2,43.7,42,44.5,42.9,43.7,42,42.8],[29.1,34.5,30.4,36,31.9,34.5,30.4,33],[35.2,28.6,36.1,29.3,37.1,28.6,36.1,27.9],[35.9,23.8,36.9,23.8,37.9,20.8,36.7,17,35.4,20.8,34.9,22.8],[28.9,19.6,30.4,21.8,31.9,19.3,30.4,17.3],[41.1,17.3,43.4,18.3,45.9,16.6,44.9,15.3,41.9,15.8],[25.7,7.6,27.1,8.3,28.7,7.6,27.1,6.8]
];
const g_7_1 = {16:'..............1.....',17:'.........11111......',18:'.......1111222111...',19:'.......234568967431.'};
const c_7_2 = [
 [2.4,0,2.4,1.2,4.4,3.3,7,1.2,10.9,3,13.9,3.8,19.4,7.6,21.4,8,25.4,6.8,22.4,10.3,25.9,13.8,26.9,16.3,27.4,19.3,23.9,23,25.4,25,31.4,20,31.4,14.3,34.4,14.3,31.4,17.3,31.4,20,34.9,21.3,37.4,21.3,40.4,18.3,43.4,19.8,44.4,17.3,49.4,13.3,51.4,11,51.9,5.8,56.9,3.8,60,3.3,60,0],
 [9.4,0,9.4,2.3,13.4,3.3,18.4,4,27.9,4.8,36.9,6,44.9,5,49.4,7.8,49.9,5.8,54.9,2.8,54.9,0],
 [25.9,0,25.9,1.5,29.4,1.2,29.4,0],[29.9,0,29.9,1.8,33.4,2,38.9,2.8,43.4,1.8,43.4,0],
 [22.4,31,24.4,34.8,26.4,31,24.4,29.3],[24.4,28.6,25.4,29.9,27.4,28.6,25.4,27],[29.4,34.6,31.4,36,33,34.6,31.4,33],[34.1,40.6,34.9,41.4,35.7,40.6,34.9,39.8],[39.9,43.6,40.4,44.4,41.9,43.6,40.9,42.9],[35.9,26.8,37.4,28.8,38.4,24.3,36.9,24.3],[39.4,22.8,40.4,24.3,41.9,22.8,40.4,21.3],[40.4,13.9,43.9,15,44.4,13.2,41.9,13.2],[45.9,7.3,46.4,10.8,46.9,7.3]
];
const g_7_2 = {16:'..........11........',17:'........111111......',18:'.....11111222111....',19:'....1234566976553...'};
const c_7_3 = [
 [4.4,0,4.4,1.8,9.9,4.3,13.4,6.6,16.4,6.5,19.4,8.3,22.4,7.1,23.9,8,21.9,11.3,22.9,12.3,31.4,10.8,30.9,13.3,25.4,16.8,28.4,19.3,34.4,21.1,35.9,19.8,34.4,18,37.9,15.8,41.4,13.8,43.4,10.8,45.9,4.3,49.4,5.8,52.9,5.3,55.4,1.8,55.4,0],
 [7.7,0,7.7,1.8,13.9,4.3,21.9,5.8,29.9,6.8,33.9,8.3,37.4,8.8,37.4,5.3,42.9,4.3,49.4,2.8,50.7,1.3,50.7,0],
 [23.2,0,23.2,1.8,31.4,3.3,36.9,2.3,40.4,1.3,40.4,0],
 [21.4,19.6,22.4,20.5,23.4,19.6,22.4,18.6],[24.4,22.8,25.5,24.3,26.9,22.8,25.5,21.3],[33.4,28.5,34.4,29.5,35.4,28.5,34.4,27.1],[45.6,16.5,46.4,17.3,47.2,16.5,46.4,15.6],[35.9,10.8,37.2,11.5,38.4,10.6,36.9,10.1]
];
const g_7_3 = {17:'........11111.......',18:'....1112222211111...',19:'....12345567996542..'};
const c_7_4 = [
 [0,21.5,1.4,21.5,2.9,12.3,3.7,4.5,11.9,4.1,15.4,3.6,18.4,2.3,19.4,.3,0,0],
 [0,9.8,1.9,6.3,2.9,4.3,4.9,3.3,11.9,3.3,13.4,1.8,13.4,0,0,0],
 [0,6.5,1.6,6.5,1.9,4.3,3.9,2.8,7.4,1.8,7.4,0,0,0],[.4,4.8,1.6,4.8,1.6,2.8,.4,2.8]
];
const g_7_4 = {5:'1...................',6:'1...................',7:'1...................',8:'2...................',9:'2...................',10:'3...................',11:'3...................',12:'3...................',13:'3...................',14:'3...................',15:'4...................',16:'51..................',17:'5311................',18:'741.................',19:'5975521.............'};
const c_7_5 = [
 [1.3,0,1.9,1.3,4.9,3.8,5.4,8,7.4,12.3,13.4,9.9,16.4,11.3,18.4,9.9,22.4,8.4,25.4,8.4,27.4,11,28.4,8.4,29.9,6.8,31.4,4.9,34.4,3.4,37.9,2.6,40.4,3.2,43.9,3.4,44.9,2.2,43.9,1.4,40.9,1.2,40,0],
 [3,0,3,1,6.4,3.8,9.9,4.2,12.9,4,15.9,4.8,18.9,3.4,22.4,5,25.4,3.6,31.4,3.2,34.4,1.8,34.4,0],
 [11.4,0,11.9,1,15.9,2.8,19.9,3,21.4,1.2,21.4,0],
 [13,8.3,14.4,7.3,14.4,3.3,11.4,5.3,11.4,6.3],[22.4,6.2,25.4,9.3,29.9,6.2,28.9,5,24.9,5],[12,25.6,13.4,27,15.4,25.7,13.4,24.2],[24,16.8,25.4,19.8,26.4,16.8,25.4,14.5],[24.4,21.8,25.4,23.1,26.9,21.8,25.4,20.8],[19.4,14.8,20.4,15.9,21.4,14.8,20.4,13.8],[33.9,22.7,34.4,23.7,35.4,22.7,34.4,21.7],[43.4,36.9,44,37.5,44.9,36.9,44,36.1],[25.4,43.1,25.9,43.8,26.4,43.1,25.4,42.5]
];
const g_7_5 = {17:'....111.............',18:'....1111111111.1....',19:'..1359734311........'};
const c_7_6 = [
 [1.2,0,1.4,1.2,3.9,3.8,5.3,5.8,5.3,8.8,7.3,11.6,13,9.8,14.8,13,18.8,14,19.8,10.8,22.3,8.8,24.8,12.3,29.3,10.3,29.8,4.3,34.8,6,39.8,5.3,40.3,4.3,43.8,7.3,45.6,4.6,40.3,3.3,40,0],
 [3,0,3,1.3,5.8,3.3,11.3,3.8,16.3,5.8,18.3,4.8,22.3,6.1,27.3,4.6,31.3,3.6,34.3,2,34.6,0],
 [10.8,0,10.8,1.4,14.8,2.2,16.8,2.9,21.8,2.2,21.8,0],
 [18.8,41.2,19.8,42.3,20.8,41.2,19.8,39.8],[42.6,38.7,43.4,39.5,44.2,38.7,43.4,37.9],[12.5,24.6,13.5,25.3,14.8,24.6,13.5,23.9],[33.4,21.6,34.4,22.8,35.4,21.6,34.4,20.6],[11.5,18.7,13.5,19.8,14.5,18.3,13.5,14.8,11.8,16.6],[21.8,15.6,25.3,18.7,29.8,15.8,27.8,14.3,22.8,14.3],[25.3,10.1,25.6,10.3,25.9,10.1,25.6,9.9]
];
const g_7_6 = {17:'....1...............',18:'...1111111111.......',19:'..1156897543211.....'};
const c_2_1 = [
 [48.1,55.6,51.4,55.3,54.9,49.8,52.4,43.8,48.4,36.6,43.9,34.8,38.9,28.8,33.9,25.3,28.4,22.8,26.4,19.6,23.4,17.8,21.9,15.1,19.9,16.6,18.9,22.8,19.7,26.3,25.9,33.3,30.4,38.8,34.9,44.3,39.4,46.3,39.9,49.8,44.9,53.3],
 [48.4,54.3,52.4,51.8,53.9,49.8,51.4,44.3,47.4,42.3,45.9,38.8,41.9,35.8,37.9,30.8,33.4,26.8,27.9,23.8,24.9,20.8,21.4,20,20.2,22.8,20.4,25.3,27.4,32.3,32.4,37.8,36.9,43.8,41.9,46.3,42.4,50.3,45.9,51.8],
 [37.9,43.3,44.4,44.3,41.9,39.8,39.9,35.8,34.9,30.8,29.9,25.3,27.4,24.8,24.9,26,29.9,31.8,34.9,36.8],
 [47.9,48.1,48.6,46.3,47.1,46.3],[21.1,23.5,22.1,22.7,21.1,21.8,20.2,22.7],[16,16.6,18.2,13.8,16,11.2,14,13.8]
];
const g_2_1 = ['','.................111','................2321','...............13552','..............12454.','............1245431.','............134541..','...........13941.....','..........137741.....','.........1267631....','........1267521.....','.......1257521......','......125741........','......14531.........','......2521..........','......111...........'];
const c_3_1 = [
 [44.9,53.3,46.4,48.8,53.9,46.8,52.9,39.8,53.9,37.3,49.9,29.8,51.9,25.8,48.9,23.8,42.9,20.8,38.9,17.3,36.9,15.3,31.4,13.3,24.9,12.3,21.9,10.8,21.4,7.6,18.9,10.8,21.9,13.8,19.4,23.8,14.4,19.8,18.9,22.3,21.9,26.8,23.9,32.8,29.9,37.8,34.9,44.3,36.9,47.3,40.9,48.8],
 [48.9,47.3,51.9,44.8,53.4,37.8,49.9,30.8,48.9,29.3,41.9,25.8,37.9,20.8,31.9,17.8,27.9,14.8,20.9,14.8,19.9,19.8,20.4,25.3,22.9,29.8,24.9,33.8,29.9,37.8,32.9,40.8,36.4,44.3,43.9,45.8],
 [41.9,41.3,46.9,39.8,47.9,43.3,49.4,40.8,46.9,37.8,49.9,35.3,48.9,30.8,45.9,30.3,42.9,27.3,37.9,26.8,33.9,22.8,30.4,19.3,28.4,25.8,32.4,31.3,35.9,37.8],
 [28.4,35.3,30.4,37.8,32.1,34.8,30.4,32.3],[32.7,34.6,33.6,35.8,34.4,34.6,33.6,33.3],[37.9,33.8,39.9,32.3,39.4,29.8,37.9,31.3],
 [43.9,47.3,44.7,48.3,45.6,46.8,44.7,46],[53.4,49.6,56.4,50.8,58.2,50.6,58.2,49,55.9,48.8],[6.2,16.6,7.2,17.3,8.1,16.5,7.2,15.6],[11.1,10.8,15.9,15.3,17.6,13.6,13.2,9.3],[23.4,24.8,24.7,25.8,25.6,22.3,23.9,22],[26.1,19.8,27.4,21.1,28.7,19.8,27.4,18.6],[32.9,19.8,34.9,19.6,33.7,18],[26.7,16.6,27.6,17.3,28.4,16.3,27.6,14.8]
];
const g_3_1 = ['','','','...............111..','............1134441.','..........112345521.','.........12345665411','........12457766631.','.......123759777641.','......1234567765421.','......1244567654321.','.....11244577544321.','.....124467543321...','.....124455432211...','.....1244432211.....','.....1343211........','......12211.........'];
const c_3_2 = [
 [12.9,21.3,16.4,19.8,17.4,25.8,23.9,31.8,23.4,37.8,25.4,38.8,31.4,39.8,40.4,48.8,46.4,46.3,44.9,49.3,46.4,51.3,49.4,48.8,52.9,49.3,55.4,51.3,58.6,49.8,54.4,47.8,55.4,40.8,52.4,37.3,52.4,32.8,48.4,29.3,46.6,28.8,46.6,25.3,39.4,21.8,38.9,18.3,34.4,18.8,28.9,12.8,25.9,11,20.9,10.8,16.4,7.6,11.4,13.8],
 [18.9,22.3,22.9,22.8,23.4,25.8,26.9,34.8,31.9,39.8,40.4,45.8,43.9,42.8,49.9,46.8,53.4,43.8,49.9,38.8,50.9,34.3,49.4,31.8,43.4,29.3,41.4,25.8,35.9,22.3,28.9,20.8,28.4,15.8,26.9,13.3,23.4,13.3,21.9,16.3],
 [33.4,35.8,43.4,40.8,45.9,35.8,49.4,34.8,48.4,32.3,42.9,29.8,40.9,26.8,34.9,23.8,29.9,21.8,26.9,24.8,29.4,26.8,32.9,29.8],
 [48.9,53.8,49.9,54.1,52.4,52.6,49.4,51.6],[15.4,16.8,17.4,13.6,19.4,13.6,16.4,19.3],[27.9,34.6,29.4,34.6,28.7,32.8],[34.1,29.8,37.9,29.3,38.1,27.8,34.9,27.3],[36.2,31.6,37.4,32.3,38.5,31.6,37.4,30.8],[39.4,34.8,40.4,36.3,41.1,34.6,40.4,33.3],[42.1,34.6,43.4,37.8,44.7,34.6,43.4,33],[39.4,43.6,40.3,44.4,41.1,43.6,40.3,42.8],[35.7,34.6,36.4,35.3,37.1,34.6,36.4,33.8]
];
const g_3_2 = ['','','.................1..','................111.','............112321..','..........1234445321','.........12344544321','........124567676431','........12469696421.','.......124567765321.','.......13567876421..','......1256765321....','......125654321.....','.....1235443211.....','.....13532111.......','....1244321.........','....123321..........','.....1111...........'];

// faint single samples per panel
const p_1_0 = [11,33,14,50,6,37,16,46,18,22,9,45,44,55,40,47,46,49,36,23,42,27,50,35,44,36,21,8,24,6,29,9,26,5,24,2,30,1,13,14,22,19,29,6,20,19,36,18,10,39];
const p_2_0 = [5,52,11,53,8,53,15,53,12,38,14,23,16,17,18,20,26,18,23,14,22,11,25,10,29,7,26,5,33,13,39,18,44,21,47,21,46,19,38,6,34,7,40,15,45,3,30,3,5,36];
const p_3_0 = [15,57,9,50,6,40,5,31,11,23,12,18,13,14,20,17,38,13,43,18,44,12,46,25,39,42,35,52,27,51,21,55,40,44,34,4,28,8,26,2,38,7,30,45,14,35,45,27];
const p_4_0 = [22,58,26,49,24,47,32,47,24,41,29,43,13,38,17,38,33,40,41,37,21,34,26,33,32,33,40,30,20,32,23,27,29,25,37,19,35,15,40,13,45,16,44,7,51,7,45,3,24,18,20,21,18,13,15,14,8,10,12,6,4,9];
const p_4_1 = [25,58,37,52,46,48,43,50,37,39,42,39,30,37,35,33,41,33,22,34,36,30,43,34,15,30,25,31,27,24,32,24,26,22,35,24,30,19,18,22,22,18,34,21,45,24,54,12,52,15,9,21,2,7,8,11,18,10,26,8,51,2];
const p_4_2 = [42,52,46,50,52,50,32,39,35,40,43,41,15,37,20,34,13,28,32,27,28,26,37,25,44,27,13,20,17,21,23,23,31,25,36,18,43,18,51,17,6,14,2,12,10,9,14,14,9,19,56,9,53,2];
const p_4_3 = [37,52,27,51,20,38,24,36,32,33,35,40,42,36,13,25,16,22,23,22,30,27,34,26,39,23,9,16,5,14,11,19,17,17,21,20,25,18,36,19,47,17,50,14,50,5,56,3,9,7,3,8,14,12];
const p_5_0 = [37,52,39,47,29,47,22,44,11,37,12,34,19,33,16,36,10,27,8,25,2,25,5,33,6,19,6,12,11,5,15,8,40,7,42,9,44,25,46,21,48,33,36,37,34,42,39,42,26,54,20,48,33,45];
const p_5_1 = [27,53,35,57,14,43,20,46,8,34,5,28,11,27,6,20,3,11,13,19,24,44,26,49,33,43,40,42,35,41,43,39,48,42,49,45,53,46,55,27,56,24,50,12,42,7,13,6,30,5,55,5];
const p_5_2 = [13,46,16,47,9,38,5,33,3,25,7,23,10,32,13,11,11,10,26,47,33,40,38,42,43,42,44,30,50,37,53,29,57,27,58,20,57,10,47,10,52,4,30,3,9,20,5,22,18,21];
const p_5_3 = [48,58,14,43,5,41,4,16,3,24,9,29,37,40,33,50,38,47,44,47,49,33,51,40,58,22,50,22,52,16,54,10,57,18,48,8,39,2,23,5,10,15,14,5];
const p_5_4 = [1,56,6,46,19,36,17,27,22,24,18,21,8,21,9,23,14,27,23,20,26,18,27,17,24,14,26,13,30,12,37,9,41,7,45,7,52,11,55,4,60,5,60,10,30,8,34,5,19,6,7,1];
const p_6_0 = [30,59,38,50,36,47,22,46,11,36,12,24,10,26,6,19,2,13,16,8,33,5,38,3,42,26,45,19,41,16,47,24,36,39,28,53,26,44,33,44,30,46,21,37];
const p_6_1 = [27,58,28,51,14,38,20,42,5,28,3,20,7,16,11,28,17,12,16,15,14,10,32,46,36,44,42,46,35,41,42,42,48,36,48,24,50,5,36,4,45,39,55,30,52,23];
const p_6_2 = [13,49,27,47,41,50,44,46,4,35,7,28,9,30,14,26,2,23,5,14,3,9,13,9,36,40,38,42,46,42,50,38,53,36,52,31,56,33,55,22,57,8,54,6,58,12];
const p_6_3 = [14,49,37,53,42,46,46,50,10,40,18,41,26,42,29,34,31,43,35,40,3,18,5,11,14,25,9,29,49,36,53,32,58,25,56,9,45,2,54,30];
const p_6_4 = [29,47,11,33,15,28,9,33,13,35,9,27,14,22,17,15,25,25,29,27,30,17,27,18,24,21,25,15,31,15,35,15,33,17,40,13,43,8,41,10,52,11,51,15,18,3,21,7,7,2,3,0,45,14,35,24];
const p_6_5 = [56.7,57.8,51.4,51,49.4,49.8,47.9,48,46.9,45.8,44.4,44.3,42.9,43.3,41.4,42.3,40.4,40.3,38.9,38.8,36.4,36.6,34.9,35.3,33.4,34.3,48.6,48.4,45.6,45.2,43.6,43.8,39.6,39.6,37.6,37.8,35.6,36,5.4,5,3.9,3.8,2.9,3,.9,.8,4.6,4.4];
const p_7_0 = [1.5,45,10,47,7,34,3,26,5,20,7,23,6,7,22,52,22,47,20,40,23,35,28,35,32,37,33,33,26,31,22,28,14,24,15,18,17,15,19,17,22,20,29,15,30,18,38,22,44,20,30,12,39,8,36,4];
const p_7_1 = [30,57,42,52,34,44,32,41,46,48,49,37,48,30,44,30,42,38,47,30,24,32,21,39,17,29,14,13,16,8,19,9,25,16,30,19,31,11,36,9,38,8,40,15,46,6,51,14,52,12,8,6];
const p_7_2 = [26,58,52,55,50,52,21,49,26,48,11,33,18,35,5,20,7,12,13,10,17,10,24,29,28,29,37,35,43,37,47,43,48,37,55,30,53,17,49,8,51,22,56,9];
const p_7_3 = [14,56,27,53,35,50,42,54,38,47,52,44,48,35,46,28,44,30,35,26,29,23,21,16,15,23,9,9,7,6,17,8,25,8,50,4,54,6,52,28,42,21,27,6,30,37];
const p_7_4 = [.2,45,.4,35,.4,28,.3,19,.4,12,.3,9,.3,24,.5,16,.5,52,.2,4];
const p_7_5 = [16,50,22,45,25,40,34,38,33,42,30,33,25,34,21,36,15,33,8,27,5,29,18,25,28,30,13,19,30,26,44,24,50,10,52,15,41,17,38,12,36,17,29,19,26,25,33,21];
const p_7_6 = [18,46,32,44,21,39,25,38,17,32,22,32,26,31,31,34,40,30,24,27,20,26,17,25,27,25,36,24,42,22,6,20,8,17,13,14,25,16,34,13,43,13,48,11,49,5,40,8,37,7,23,19];
const p_2_1 = [2,47,5,46,10,44,14,39,8,36,11,32,3,25,11,23,6,20,10,13,18,10,14,8,5,6,3,8,7,3,12,2,21,14,22,24,35,34,43,33,34,22,40,40,56,54,57,50,54,42,45,33,47,28,39,26,28,22];
const p_3_1 = [1,16,4,13,6,10,10,7,12,4,16,5,21,3,35,2,50,12,55,15,55,22,56,30,58,35,56,44,56,58,51,56,47,58,42,52,36,51,23,42,18,38,15,33,13,32,8,24,7,19,40,8,36,9,25,6];
const p_3_2 = [4,14,7,15,10,10,3,9,12,5,17,6,13,3,24,3,21,13,32,13,33,8,36,10,50,55,55,55,58,50,52,43,58,40,57,28,54,15,50,8,44,6,38,3,30,2,31,46,42,51,45,50,36,45];

const contours = { '1_0':c_1_0,'2_0':c_2_0,'3_0':c_3_0,'4_0':c_4_0,'5_0':c_5_0,'6_0':c_6_0,'7_0':c_7_0,'2_1':c_2_1,'3_1':c_3_1,'4_1':c_4_1,'5_1':c_5_1,'6_1':c_6_1,'7_1':c_7_1,'3_2':c_3_2,'4_2':c_4_2,'5_2':c_5_2,'6_2':c_6_2,'7_2':c_7_2,'4_3':c_4_3,'5_3':c_5_3,'6_3':c_6_3,'7_3':c_7_3,'5_4':c_5_4,'6_4':c_6_4,'7_4':c_7_4,'6_5':c_6_5,'7_5':c_7_5,'7_6':c_7_6 };
const cells = { '1_0':g_1_0,'2_0':g_2_0,'3_0':g_3_0,'4_0':g_4_0,'5_0':g_5_0,'6_0':g_6_0,'7_0':g_7_0,'2_1':g_2_1,'3_1':g_3_1,'4_1':g_4_1,'5_1':g_5_1,'6_1':g_6_1,'7_1':g_7_1,'3_2':g_3_2,'4_2':g_4_2,'5_2':g_5_2,'6_2':g_6_2,'7_2':g_7_2,'4_3':g_4_3,'5_3':g_5_3,'6_3':g_6_3,'7_3':g_7_3,'5_4':g_5_4,'6_4':g_6_4,'7_4':g_7_4,'6_5':g_6_5,'7_5':g_7_5,'7_6':g_7_6 };
const points = { '1_0':p_1_0,'2_0':p_2_0,'3_0':p_3_0,'4_0':p_4_0,'5_0':p_5_0,'6_0':p_6_0,'7_0':p_7_0,'2_1':p_2_1,'3_1':p_3_1,'4_1':p_4_1,'5_1':p_5_1,'6_1':p_6_1,'7_1':p_7_1,'3_2':p_3_2,'4_2':p_4_2,'5_2':p_5_2,'6_2':p_6_2,'7_2':p_7_2,'4_3':p_4_3,'5_3':p_5_3,'6_3':p_6_3,'7_3':p_7_3,'5_4':p_5_4,'6_4':p_6_4,'7_4':p_7_4,'6_5':p_6_5,'7_5':p_7_5,'7_6':p_7_6 };

const GRID = 60;
const PW = 200, ML = 100, MR = 60, MT = 35, MB = 100;
const shades = [255,247,238,224,204,176,144,112,64,0];
const gray = d => 'rgb(' + shades[d] + ',' + shades[d] + ',' + shades[d] + ')';
const toData = (p, u, span) => axis_lo[p] + u / span * (axis_hi[p] - axis_lo[p]);

// centre the rotated tick labels on the ticks the way the target does
const labelPlugin = {
  id: 'labelPlugin',
  afterUpdate(chart) {
    const ctx = chart.ctx;
    for (const id of ['x', 'y']) {
      const s = chart.scales[id];
      if (!s.options.ticks.display) continue;
      s.getLabelItems().forEach(it => {
        ctx.font = it.font.string;
        const w = ctx.measureText(it.label).width;
        const half = (w + 8) * 0.3536;
        const [tx, ty] = it.options.translation;
        it.options.textAlign = 'center';
        it.options.textBaseline = 'middle';
        it.textOffset = 0;
        if (id === 'x') it.options.translation = [tx, s.top + 14 + half];
        else it.options.translation = [s.right - 14 - half, ty + half - 2];
      });
    }
  }
};
const framePlugin = {
  id: 'framePlugin',
  afterDraw(chart, args, opts) {
    const ctx = chart.ctx, a = chart.chartArea;
    ctx.save();
    ctx.strokeStyle = '#000';
    ctx.lineWidth = 1.1;
    ctx.strokeRect(a.left + .5, a.top + .5, a.width, a.height);
    ctx.fillStyle = '#000';
    if (opts.title !== undefined) {
      const t = opts.title;
      ctx.font = '16.67px "DejaVu Sans"';
      const mw = ctx.measureText(title_main[t]).width;
      ctx.font = '11.67px "DejaVu Sans"';
      const sw = Math.max(ctx.measureText(title_up[t]).width, ctx.measureText(title_down[t]).width);
      const x0 = a.left + a.width / 2 - (mw + sw) / 2, yb = a.top - 7.5;
      ctx.font = '16.67px "DejaVu Sans"';
      ctx.fillText(title_main[t], x0, yb);
      ctx.font = '11.67px "DejaVu Sans"';
      ctx.fillText(title_up[t], x0 + mw, yb - 6);
      ctx.fillText(title_down[t], x0 + mw, yb + 4);
    }
    ctx.font = '13.89px "DejaVu Sans"';
    if (opts.offsetTop) ctx.fillText('1e\u22128', a.left, a.top - 3.5);
    if (opts.offsetBottom) { ctx.textAlign = 'right'; ctx.fillText('1e\u22128', a.right, a.bottom + 41.5); }
    ctx.restore();
  }
};

function scaleOpts(axis, p, showTicks, titleText) {
  return {
    type: 'linear', min: axis_lo[p], max: axis_hi[p],
    border: { display: false },
    grid: { display: true, drawOnChartArea: false, drawTicks: true, tickLength: 5, tickColor: '#000', tickWidth: 1.1 },
    afterBuildTicks: s => { s.ticks = tick_values[p].map(v => ({ value: v })); },
    ticks: {
      display: showTicks, autoSkip: false, minRotation: 45, maxRotation: 45,
      color: '#000', font: { family: '"DejaVu Sans"', size: 13.89 },
      callback: (v, i) => tick_labels[p][i]
    },
    title: { display: !!titleText, text: titleText, color: '#000', font: { family: '"DejaVu Sans"', size: 13.89 },
      padding: { top: 24, bottom: 24 } },
    afterFit: s => {
      s.paddingLeft = s.paddingRight = s.paddingTop = s.paddingBottom = 0;
      if (axis === 'x') s.height = MB; else s.width = ML;
    }
  };
}

function addPanel(i, j) {
  const key = i + '_' + j;
  const c = document.createElement('canvas');
  const W = ML + PW + MR, H = MT + PW + MB;
  c.width = W; c.height = H;
  c.style.left = (100 + 210 * j - ML) + 'px';
  c.style.top = (39 + 210 * i - MT) + 'px';
  c.style.width = W + 'px'; c.style.height = H + 'px';
  document.body.appendChild(c);
  const datasets = [];
  let yScale;
  if (i === j) {
    const dx = (axis_hi[j] - axis_lo[j]) / 20;
    const pts = [{ x: axis_lo[j], y: 0 }];
    hist[j].forEach((h, k) => pts.push({ x: axis_lo[j] + k * dx, y: h }));
    pts.push({ x: axis_hi[j], y: hist[j][19] });
    pts.push({ x: axis_hi[j], y: 0 });
    datasets.push({ data: pts, showLine: true, stepped: 'before', borderColor: '#000', borderWidth: 1.4, pointRadius: 0, fill: false });
    yScale = { type: 'linear', min: 0, max: GRID, display: true, border: { display: false }, grid: { display: false }, ticks: { display: false },
      afterFit: s => { s.paddingTop = s.paddingBottom = 0; s.width = ML; } };
  } else {
    // first two columns were read on a slightly narrower grid
    const spanX = (j < 2 && i !== 4) ? 58.1 : GRID;
    contours[key].forEach(list => {
      const pts = [];
      for (let k = 0; k < list.length; k += 2) pts.push({ x: toData(j, list[k], spanX), y: toData(i, list[k + 1], GRID) });
      pts.push(pts[0]);
      datasets.push({ data: pts, showLine: true, borderColor: '#000', borderWidth: 2.2, pointRadius: 0, tension: 0, fill: false, order: 0 });
    });
    const dots = [];
    for (let k = 0; k < points[key].length; k += 2) dots.push({ x: toData(j, points[key][k], spanX), y: toData(i, points[key][k + 1], GRID) });
    datasets.push({ data: dots, pointRadius: 1.4, pointBorderWidth: 0, pointBackgroundColor: 'rgba(0,0,0,.18)', order: 1 });
    const pts = [], col = [];
    const grid = cells[key];
    for (let r = 0; r < 20; r++) {
      const row = grid[r] || '';
      for (let k = 0; k < 20; k++) {
        const d = row[k];
        if (d === '.' || d === undefined) continue;
        pts.push({ x: toData(j, k * 3 + 1.5, GRID), y: toData(i, (19 - r) * 3 + 1.5, GRID) });
        col.push(gray(+d));
      }
    }
    datasets.push({ data: pts, pointStyle: 'rect', pointRadius: 5 * Math.SQRT2, pointBorderWidth: 0, pointBackgroundColor: col, order: 2 });
    yScale = scaleOpts('y', i, j === 0, j === 0 ? names[i] : '');
  }
  new Chart(c, {
    type: 'scatter',
    data: { datasets },
    plugins: [labelPlugin, framePlugin],
    options: {
      animation: false, responsive: false, devicePixelRatio: 1,
      layout: { padding: { top: MT, right: MR, left: 0, bottom: 0 } },
      plugins: { legend: { display: false }, tooltip: { enabled: false },
        framePlugin: { title: i === j ? j : undefined, offsetTop: key === '5_0', offsetBottom: key === '7_5' } },
      scales: { x: scaleOpts('x', j, i === 7, i === 7 ? names[j] : ''), y: yScale }
    }
  });
}

for (let i = 0; i < 8; i++) for (let j = 0; j <= i; j++) addPanel(i, j);
</script>
</body>
</html>
